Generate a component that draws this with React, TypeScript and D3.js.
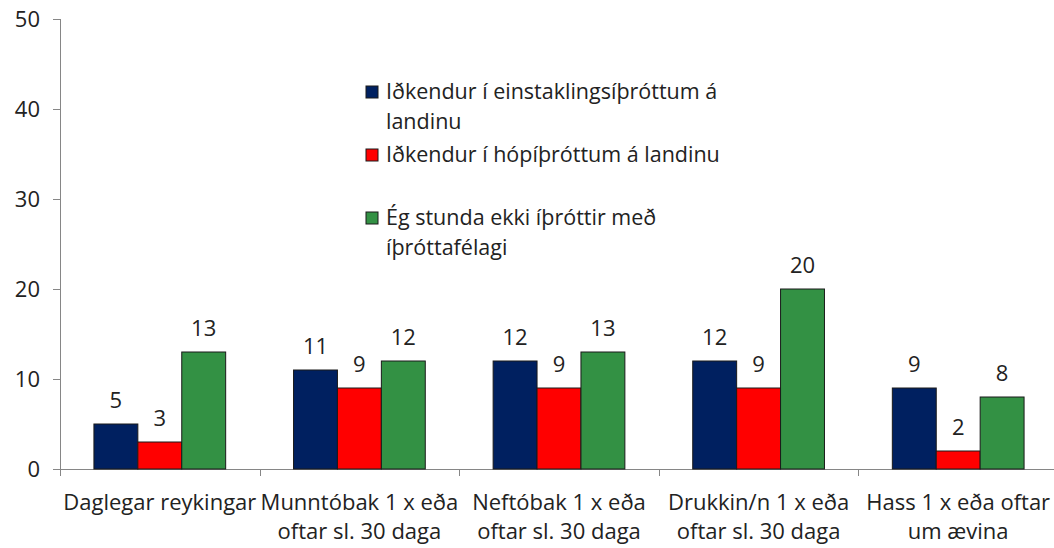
import React from "react";
import * as d3 from "d3";

const categories = [
  "Daglegar reykingar",
  "Munntóbak 1 x eða\noftar sl. 30 daga",
  "Neftóbak 1 x eða\noftar sl. 30 daga",
  "Drukkin/n 1 x eða\noftar sl. 30 daga",
  "Hass 1 x eða oftar\num ævina",
];
const seriesNames = [
  "Iðkendur í einstaklingsíþróttum á\nlandinu",
  "Iðkendur í hópíþróttum á landinu",
  "Ég stunda ekki íþróttir með\níþróttafélagi",
];
const individual = [5, 11, 12, 12, 9];
const team = [3, 9, 9, 9, 2];
const none = [13, 12, 13, 20, 8];
const yTicks = [0, 10, 20, 30, 40, 50];
const colors = ["#002060", "#FF0000", "#339144"];

const W = 1054;
const H = 548;
const FONT = "'Open Sans', sans-serif";

export default function App() {
  const series = [individual, team, none];
  const x = d3
    .scaleBand<string>()
    .domain(categories)
    .range([60, 1058])
    .paddingInner(0.34)
    .paddingOuter(0.17);
  const xs = d3
    .scaleBand<number>()
    .domain([0, 1, 2])
    .range([0, x.bandwidth()]);
  const y = d3.scaleLinear().domain([0, 50]).range([469, 19]);
  const step = x.step();
  const boundaries = d3.range(categories.length + 1).map((i) => 60 + i * step);

  const legendY = [92, 155, 218];

  return (
    <svg
      width={W}
      height={H}
      style={{ position: "absolute", left: 0, top: 0, background: "#fff" }}
      fontFamily={FONT}
    >
      {/* y axis */}
      <line x1={60.5} x2={60.5} y1={19} y2={469} stroke="#868686" />
      {yTicks.map((t) => (
        <g key={t}>
          <line x1={53} x2={60} y1={Math.round(y(t)) + 0.5} y2={Math.round(y(t)) + 0.5} stroke="#868686" />
          <text x={40} y={y(t)} dy="0.36em" textAnchor="end" fontSize={22} fill="#222">
            {t}
          </text>
        </g>
      ))}
      {/* x axis */}
      <line x1={60} x2={W} y1={469.5} y2={469.5} stroke="#868686" />
      {boundaries.map((b, i) => (
        <line key={i} x1={Math.round(b) + 0.5} x2={Math.round(b) + 0.5} y1={469} y2={476} stroke="#868686" />
      ))}
      {/* bars */}
      {categories.map((c, ci) => (
        <g key={c} transform={`translate(${x(c)},0)`}>
          {series.map((s, si) => (
            <g key={si}>
              <rect
                x={xs(si)}
                y={y(s[ci])}
                width={xs.bandwidth()}
                height={y(0) - y(s[ci])}
                fill={colors[si]}
                stroke="#1a1a1a"
                strokeWidth={1}
              />
              <text
                x={(xs(si) as number) + xs.bandwidth() / 2}
                y={y(s[ci]) - 16}
                textAnchor="middle"
                fontSize={22}
                fill="#222"
              >
                {s[ci]}
              </text>
            </g>
          ))}
        </g>
      ))}
      {/* category labels */}
      {categories.map((c) => (
        <text
          key={c}
          x={(x(c) as number) + x.bandwidth() / 2}
          textAnchor="middle"
          fontSize={22}
          fill="#222"
        >
          {c.split("\n").map((line, li) => (
            <tspan key={li} x={(x(c) as number) + x.bandwidth() / 2} y={510 + li * 29}>
              {line}
            </tspan>
          ))}
        </text>
      ))}
      {/* legend */}
      {seriesNames.map((n, i) => (
        <g key={n}>
          <rect x={366} y={legendY[i] - 6} width={12} height={12} fill={colors[i]} stroke="#1a1a1a" />
          <text fontSize={21.5} fill="#222">
            {n.split("\n").map((line, li) => (
              <tspan key={li} x={386} y={legendY[i] + 7 + li * 30}>
                {line}
              </tspan>
            ))}
          </text>
        </g>
      ))}
    </svg>
  );
}
